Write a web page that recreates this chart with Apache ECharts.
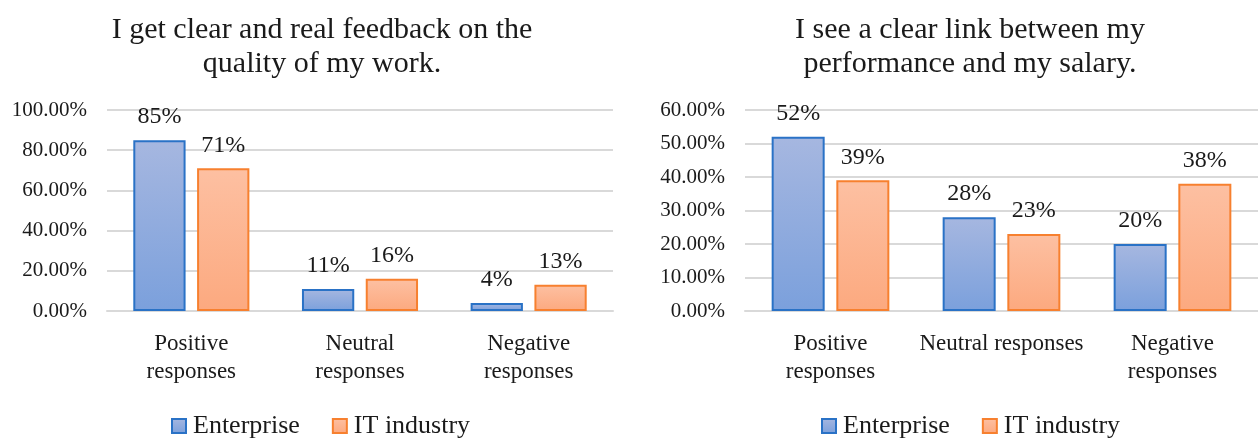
<!DOCTYPE html>
<html>
<head>
<meta charset="utf-8">
<script src="https://cdn.jsdelivr.net/npm/echarts@6/dist/echarts.min.js"></script>
<style>
  html, body { margin: 0; padding: 0; background: #fff; }
  #chart { width: 1258px; height: 440px; }
</style>
</head>
<body>
<div id="chart"></div>
<script>
  // data
  const titles = [
    'I get clear and real feedback on the\nquality of my work.',
    'I see a clear link between my\nperformance and my salary.'
  ];
  const categoriesLeft = ['Positive\nresponses', 'Neutral\nresponses', 'Negative\nresponses'];
  const categoriesRight = ['Positive\nresponses', 'Neutral responses', 'Negative\nresponses'];
  const seriesNames = ['Enterprise', 'IT industry'];
  const feedbackEnterprise = [85, 11, 4];
  const feedbackIT = [71, 16, 13];
  const salaryEnterprise = [52, 28, 20];
  const salaryIT = [39, 23, 38];
  const yMax = [100, 60];
  const yStep = [20, 10];

  const FONT = '"Liberation Serif", "DejaVu Serif", serif';
  const TXT = '#1a1a1a';

  const chart = echarts.init(document.getElementById('chart'), null, { renderer: 'canvas' });

  const blueFill = new echarts.graphic.LinearGradient(0, 0, 0, 1, [
    { offset: 0, color: '#a6b7e0' },
    { offset: 1, color: '#7ba0dc' }
  ]);
  const orangeFill = new echarts.graphic.LinearGradient(0, 0, 0, 1, [
    { offset: 0, color: '#fdc0a2' },
    { offset: 1, color: '#fca97f' }
  ]);
  const itemStyles = [
    { color: blueFill, borderColor: '#2a72c6', borderWidth: 2 },
    { color: orangeFill, borderColor: '#f7802f', borderWidth: 2 }
  ];

  const grids = [
    { left: 107, right: 1258 - 613, top: 110, bottom: 440 - 311 },
    { left: 745, right: 0, top: 110, bottom: 440 - 311 }
  ];

  const makeXAxis = (cats, idx) => ({
    type: 'category',
    gridIndex: idx,
    data: cats,
    axisTick: { show: false },
    axisLine: { lineStyle: { color: '#d9d9d9', width: 2 } },
    axisLabel: {
      interval: 0,
      color: TXT, fontFamily: FONT, fontSize: 23, lineHeight: 28, margin: 19
    }
  });

  const makeYAxis = (idx) => ({
    type: 'value',
    gridIndex: idx,
    min: 0,
    max: yMax[idx],
    interval: yStep[idx],
    axisLine: { show: false },
    axisTick: { show: false },
    splitLine: { lineStyle: { color: '#d9d9d9', width: 2 } },
    axisLabel: {
      color: TXT, fontFamily: FONT, fontSize: 21, margin: 20,
      formatter: (v) => v.toFixed(2) + '%'
    }
  });

  const makeSeries = (name, data, idx, styleIdx) => ({
    name: name,
    type: 'bar',
    xAxisIndex: idx,
    yAxisIndex: idx,
    data: data,
    barWidth: '31%',
    barGap: '22%',
    itemStyle: itemStyles[styleIdx],
    label: {
      show: true,
      position: 'top',
      distance: 11,
      color: TXT,
      fontFamily: FONT,
      fontSize: 24,
      formatter: '{c}%'
    }
  });

  const legendBase = {
    data: seriesNames,
    top: 408,
    itemWidth: 14,
    itemHeight: 14,
    itemGap: 32,
    icon: 'rect',
    textStyle: { color: TXT, fontFamily: FONT, fontSize: 26, padding: [0, 0, 0, 2] }
  };

  const titleStyle = { color: TXT, fontFamily: FONT, fontSize: 30, fontWeight: 'normal', lineHeight: 34 };

  const option = {
    animation: false,
    title: [
      { text: titles[0], left: 317, top: 8, textAlign: 'center', textStyle: titleStyle },
      { text: titles[1], left: 965, top: 8, textAlign: 'center', textStyle: titleStyle }
    ],
    legend: [
      Object.assign({}, legendBase, { left: 166 }),
      Object.assign({}, legendBase, { left: 816 })
    ],
    grid: grids,
    xAxis: [makeXAxis(categoriesLeft, 0), makeXAxis(categoriesRight, 1)],
    yAxis: [makeYAxis(0), makeYAxis(1)],
    series: [
      makeSeries(seriesNames[0], feedbackEnterprise, 0, 0),
      makeSeries(seriesNames[1], feedbackIT, 0, 1),
      makeSeries(seriesNames[0], salaryEnterprise, 1, 0),
      makeSeries(seriesNames[1], salaryIT, 1, 1)
    ]
  };

  chart.setOption(option);
</script>
</body>
</html>
